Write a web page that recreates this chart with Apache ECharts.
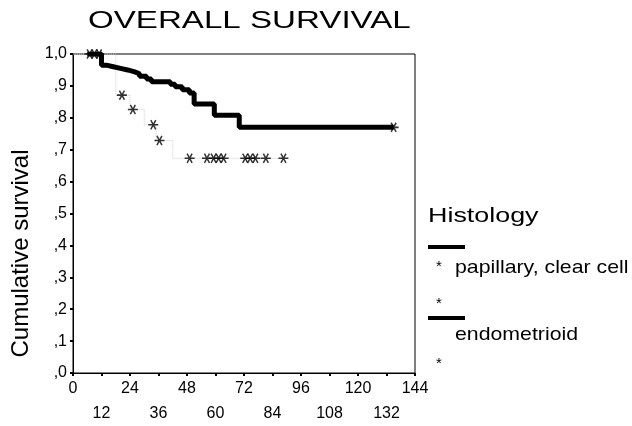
<!DOCTYPE html>
<html>
<head>
<meta charset="utf-8">
<script src="https://cdn.jsdelivr.net/npm/echarts@6/dist/echarts.min.js"></script>
<style>
  html, body { margin: 0; padding: 0; background: #fff; }
  #main { width: 632px; height: 426px; }
</style>
</head>
<body>
<div id="main"></div>
<script>
// x ticks (months) and y ticks
var monthTicks = [0, 12, 24, 36, 48, 60, 72, 84, 96, 108, 120, 132, 144];
var survTicks = [0, 0.1, 0.2, 0.3, 0.4, 0.5, 0.6, 0.7, 0.8, 0.9, 1.0];

// endometrioid (thick curve): time / cumulative survival after that time
var endoTime = [6, 12, 14, 17, 20, 23, 26, 28, 31, 33, 41, 43, 46, 49, 51, 59.5, 70, 135];
var endoSurv = [1, 0.965, 0.96, 0.955, 0.95, 0.944, 0.938, 0.93, 0.922, 0.913, 0.905, 0.897, 0.888, 0.878, 0.843, 0.808, 0.77, 0.77];
// censored marks on endometrioid
var endoCensTime = [7, 9, 11, 135];
var endoCensSurv = [1, 1, 1, 0.77];

// papillary, clear cell (faint curve)
var papTime = [0, 18, 24, 30, 35, 42, 89];
var papSurv = [1, 0.871, 0.826, 0.778, 0.729, 0.673, 0.673];
// censored marks on papillary, clear cell
var papCensTime = [20.6, 25.2, 33.8, 36.4, 49.1, 56.4, 59.2, 61.3, 63.4, 72.5, 74.6, 76.8, 81.2, 88.6];
var papCensSurv = [0.871, 0.826, 0.778, 0.729, 0.673, 0.673, 0.673, 0.673, 0.673, 0.673, 0.673, 0.673, 0.673, 0.673];

var star = 'path://M0 8.5L20 8.5L20 11.5L0 11.5Z' +
  'M6.3 0.59L16.3 17.91L13.7 19.41L3.7 2.09Z' +
  'M16.3 2.09L6.3 19.41L3.7 17.91L13.7 0.59Z';

function pairs(xs, ys) {
  var out = [];
  for (var i = 0; i < xs.length; i++) out.push([xs[i], ys[i]]);
  return out;
}

var font = '"Liberation Sans", Arial, Helvetica, sans-serif';
var myChart = echarts.init(document.getElementById('main'));

myChart.setOption({
  backgroundColor: '#fff',
  animation: false,
  grid: {
    left: 73, right: 217, top: 54, bottom: 53,
    show: true, borderColor: '#000', borderWidth: 1
  },
  xAxis: {
    type: 'value',
    min: monthTicks[0],
    max: monthTicks[monthTicks.length - 1],
    interval: 12,
    splitLine: { show: false },
    axisLine: { show: true, lineStyle: { color: '#000', width: 1 } },
    axisTick: { show: true, length: 3, lineStyle: { color: '#000', width: 2 } },
    axisLabel: {
      color: '#000',
      fontFamily: font,
      fontSize: 16,
      lineHeight: 25,
      margin: 3,
      formatter: function (v) {
        return (v / 12) % 2 === 0 ? String(v) : '\n' + v;
      }
    }
  },
  yAxis: {
    type: 'value',
    min: survTicks[0],
    max: survTicks[survTicks.length - 1],
    interval: 0.1,
    name: 'Cumulative survival',
    nameLocation: 'middle',
    nameGap: 40,
    nameTextStyle: { fontFamily: font, fontSize: 24, color: '#000', padding: [0, 0, 0, -80] },
    splitLine: { show: false },
    axisLine: { show: true, lineStyle: { color: '#000', width: 1 } },
    axisTick: { show: true, length: 3, lineStyle: { color: '#000', width: 2 } },
    axisLabel: {
      color: '#000',
      fontFamily: font,
      fontSize: 16,
      margin: 6,
      formatter: function (v) {
        var s = (Math.round(v * 10) / 10).toFixed(1).replace('.', ',');
        return s.charAt(0) === '0' ? s.slice(1) : s;
      }
    }
  },
  graphic: [
    // title, wide letters like the scan
    { type: 'text', x: 88, y: 9, scaleX: 1.38, style: { text: 'OVERALL SURVIVAL', font: '24px ' + font, fill: '#000' } },
    // legend
    { type: 'text', x: 428, y: 206, scaleX: 1.28, style: { text: 'Histology', font: '21px ' + font, fill: '#000' } },
    { type: 'rect', shape: { x: 428, y: 245, width: 37, height: 4 }, style: { fill: '#000' } },
    { type: 'text', x: 436, y: 259, style: { text: '*', font: '15px ' + font, fill: '#000' } },
    { type: 'text', x: 455, y: 258, scaleX: 1.12, style: { text: 'papillary, clear cell', font: '19px ' + font, fill: '#000' } },
    { type: 'text', x: 436, y: 296, style: { text: '*', font: '15px ' + font, fill: '#000' } },
    { type: 'rect', shape: { x: 428, y: 316, width: 37, height: 4 }, style: { fill: '#000' } },
    { type: 'text', x: 455, y: 325, scaleX: 1.12, style: { text: 'endometrioid', font: '19px ' + font, fill: '#000' } },
    { type: 'text', x: 436, y: 356, style: { text: '*', font: '15px ' + font, fill: '#000' } }
  ],
  series: [
    {
      name: 'papillary, clear cell',
      type: 'line',
      step: 'end',
      showSymbol: false,
      data: pairs(papTime, papSurv),
      lineStyle: { color: '#cfcfcf', width: 1, type: 'dotted' },
      z: 2
    },
    {
      name: 'papillary, clear cell censored',
      type: 'scatter',
      symbol: star,
      symbolSize: 10,
      data: pairs(papCensTime, papCensSurv),
      itemStyle: { color: '#000' },
      z: 3
    },
    {
      name: 'endometrioid',
      type: 'line',
      step: 'end',
      showSymbol: false,
      data: pairs(endoTime, endoSurv),
      lineStyle: { color: '#000', width: 5 },
      z: 4
    },
    {
      name: 'endometrioid censored',
      type: 'scatter',
      symbol: star,
      symbolSize: 10,
      data: pairs(endoCensTime, endoCensSurv),
      itemStyle: { color: '#000' },
      z: 5
    }
  ]
});
</script>
</body>
</html>
